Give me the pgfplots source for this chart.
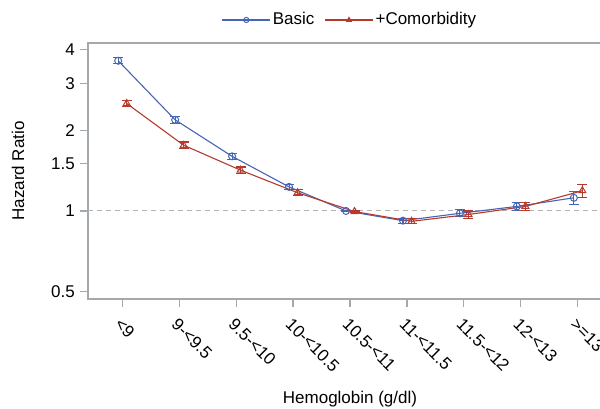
\documentclass[border=0pt]{standalone}
\usepackage{pgfplots}
\pgfplotsset{compat=1.18}
\usepackage{fontspec}
\setmainfont{Liberation Sans}
\definecolor{cbasic}{HTML}{4565B5}
\definecolor{ccomorb}{HTML}{B53A2E}
\definecolor{axgray}{HTML}{A4A9AE}
\definecolor{refgray}{HTML}{B4B4B4}

\begin{document}
\fontsize{17}{20}\selectfont
\begin{tikzpicture}
\begin{axis}[
    scale only axis,
    width=524pt, height=256pt,
    ymode=log,
    xmin=-0.6, xmax=8.6,
    ymin=0.469, ymax=4.24,
    xtick={0,1,2,3,4,5,6,7,8},
    xticklabels={<9,9-<9.5,9.5-<10,10-<10.5,10.5-<11,11-<11.5,11.5-<12,12-<13,>=13},
    ytick={0.5,1,1.5,2,3,4},
    yticklabels={0.5,1,1.5,2,3,4},
    minor ytick={},
    tick align=outside,
    xtick pos=bottom, ytick pos=left,
    major tick length=8pt,
    axis line style={axgray, line width=1.1pt},
    tick style={axgray, line width=1.1pt},
    xticklabel style={yshift=-7pt, rotate=-45, anchor=north west, inner sep=2pt},
    yticklabel style={inner sep=5pt},
    xlabel={Hemoglobin (g/dl)},
    ylabel={Hazard Ratio},
    every axis x label/.style={at={(axis description cs:0.5,-0.39)}, anchor=center},
    every axis y label/.style={at={(axis description cs:-0.1336,0.5)}, rotate=90, anchor=center},
    legend columns=-1,
    legend style={draw=none, fill=none, at={(axis description cs:0.5,1.09)}, anchor=center,
        /tikz/every even column/.append style={column sep=8pt}},
    legend image code/.code={
        \draw[#1, mark=none] (0pt,0pt) -- (48pt,0pt);
        \draw[#1, only marks, mark size=2.6pt] plot coordinates {(24pt,0pt)};
    },
]

\addplot[refgray, dashed, line width=1pt, dash pattern=on 5pt off 4pt, forget plot]
    coordinates {(-0.6,1) (8.6,1)};

\addplot[
    color=cbasic, line width=1.1pt,
    mark=o, mark size=3.5pt, mark options={solid, line width=1pt},
    error bars/.cd, y dir=both, y explicit,
    error bar style={line width=1.1pt},
    error mark options={rotate=90, mark size=5pt, line width=1.1pt},
    ]
    coordinates {
    (-0.07,3.64) +- (0,0.09)
    (0.93,2.19) +- (0,0.06)
    (1.93,1.60) +- (0,0.04)
    (2.93,1.23) +- (0,0.03)
    (3.93,1.00) +- (0,0.005)
    (4.93,0.92) +- (0,0.02)
    (5.93,0.98) +- (0,0.03)
    (6.93,1.04) +- (0,0.035)
    (7.93,1.12) +- (0,0.06)
    };
\addlegendentry{Basic}

\addplot[
    color=ccomorb, line width=1.1pt,
    mark=triangle, mark size=4pt, mark options={solid, line width=1pt},
    error bars/.cd, y dir=both, y explicit,
    error bar style={line width=1.1pt},
    error mark options={rotate=90, mark size=5pt, line width=1.1pt},
    ]
    coordinates {
    (0.08,2.52) +- (0,0.07)
    (1.08,1.76) +- (0,0.05)
    (2.08,1.42) +- (0,0.04)
    (3.08,1.17) +- (0,0.03)
    (4.08,0.995) +- (0,0.005)
    (5.08,0.915) +- (0,0.02)
    (6.08,0.97) +- (0,0.03)
    (7.08,1.04) +- (0,0.035)
    (8.08,1.19) +- (0,0.07)
    };
\addlegendentry{+Comorbidity}

\end{axis}
\pgfresetboundingbox
\path ([shift={(-88pt,-109pt)}]current axis.south west) rectangle ([shift={(512pt,299pt)}]current axis.south west);
\end{tikzpicture}
\end{document}
